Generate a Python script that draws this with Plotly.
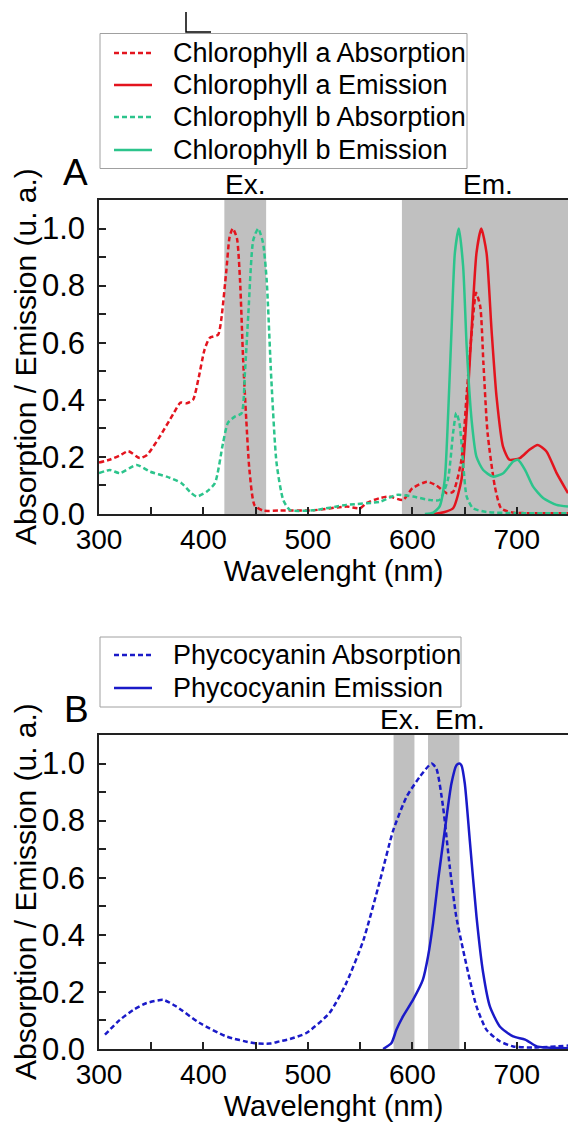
import plotly.graph_objects as go

# ---------------- Data ----------------
# Panel A
chla_abs_x = [300, 310, 320, 328, 339, 346, 358, 371, 378, 384, 390, 395, 401, 406, 414, 417, 422, 425,
              428, 432, 435, 438, 441, 444, 449, 457, 473, 505, 537, 550, 556, 569, 578, 591, 600, 614,
              623, 633, 639, 647, 652, 657, 661, 665, 668, 672, 679, 685, 696, 720, 749]
chla_abs_y = [0.18, 0.19, 0.205, 0.22, 0.196, 0.207, 0.27, 0.35, 0.39, 0.388, 0.40, 0.47, 0.575, 0.617,
              0.628, 0.68, 0.856, 0.97, 1.0, 0.967, 0.82, 0.54, 0.33, 0.155, 0.03, 0.012, 0.012, 0.013,
              0.026, 0.02, 0.038, 0.056, 0.061, 0.049, 0.09, 0.113, 0.10, 0.073, 0.078, 0.19, 0.42,
              0.645, 0.775, 0.727, 0.53, 0.284, 0.096, 0.02, 0.005, 0.003, 0.003]

chla_em_x = [620, 630, 639, 647, 652, 656.7, 661.4, 666, 671, 675.8, 680.6, 686.8, 693, 703, 712, 720,
             728.4, 738, 749]
chla_em_y = [0.0, 0.006, 0.02, 0.12, 0.35, 0.645, 0.915, 1.0, 0.915, 0.645, 0.41, 0.236, 0.19, 0.196,
             0.225, 0.242, 0.219, 0.144, 0.073]

chlb_abs_x = [300, 310.5, 320, 336, 349, 364.8, 379, 387, 393.5, 403, 411, 418.7, 423.5, 430, 436.5,
              439.7, 443, 447.7, 452.4, 457, 460.5, 465, 470, 476.4, 482.8, 505, 537, 569, 585, 600.5,
              616.7, 626, 634, 639, 642, 645, 648.6, 652, 658, 671, 700, 749]
chlb_abs_y = [0.143, 0.154, 0.143, 0.172, 0.148, 0.131, 0.108, 0.078, 0.061, 0.078, 0.108, 0.248, 0.32,
              0.341, 0.353, 0.494, 0.704, 0.96, 1.0, 0.95, 0.82, 0.47, 0.178, 0.049, 0.014, 0.013,
              0.032, 0.043, 0.067, 0.061, 0.049, 0.049, 0.12, 0.284, 0.354, 0.32, 0.178, 0.061, 0.02,
              0.007, 0.003, 0.003]

chlb_em_x = [612, 620, 626, 631, 634.3, 637.5, 640.7, 644.5, 648.6, 652, 656.7, 661.4, 667.8, 677, 687,
             696.5, 701, 708, 715.6, 725.2, 738, 749]
chlb_em_y = [0.0, 0.005, 0.026, 0.12, 0.354, 0.645, 0.915, 1.0, 0.868, 0.587, 0.33, 0.20, 0.154, 0.131,
             0.143, 0.184, 0.19, 0.154, 0.096, 0.056, 0.032, 0.026]

# Panel B
pc_abs_x = [305.7, 320, 332.8, 345.6, 361.5, 374, 396.4, 422, 447.7, 463.6, 473, 482.8, 498.5, 520.6,
            536.6, 553, 569, 581.6, 594.4, 607, 618.4, 623, 629.4, 635.8, 642, 648.6, 655, 661.4, 671,
            683.7, 696.5, 715.6, 749]
pc_abs_y = [0.05, 0.102, 0.137, 0.161, 0.172, 0.149, 0.091, 0.044, 0.021, 0.019, 0.027, 0.035, 0.056,
            0.126, 0.23, 0.38, 0.59, 0.765, 0.883, 0.953, 1.0, 0.982, 0.848, 0.638, 0.464, 0.347, 0.242,
            0.149, 0.067, 0.027, 0.009, 0.005, 0.012]

pc_em_x = [572, 580, 584.7, 591, 600.6, 610, 615, 619.8, 624.6, 631, 637.4, 642.2, 645, 647, 650.2, 655,
           661.4, 667.8, 674.2, 683.7, 696.5, 708, 719, 728.4, 749]
pc_em_y = [0.0, 0.021, 0.067, 0.114, 0.172, 0.242, 0.324, 0.44, 0.59, 0.765, 0.93, 0.994, 1.0, 0.994,
           0.93, 0.73, 0.464, 0.266, 0.149, 0.079, 0.044, 0.033, 0.009, 0.005, 0.003]

# Shaded excitation / emission windows (nm)
bands_a = [(420, 460), (590, 749)]
bands_b = [(582, 602), (615, 645)]
band_labels_a = [("Ex.", 440), ("Em.", 672)]
band_labels_b = [("Ex.", 588), ("Em.", 646)]

x_tickvals = [300, 350, 400, 450, 500, 550, 600, 650, 700, 750]
x_ticktext = ["300", "", "400", "", "500", "", "600", "", "700", ""]
y_tickvals = [0.0, 0.1, 0.2, 0.3, 0.4, 0.5, 0.6, 0.7, 0.8, 0.9, 1.0]
y_ticktext = ["0.0", "", "0.2", "", "0.4", "", "0.6", "", "0.8", "", "1.0"]

RED = "#E3141E"
GREEN = "#2CC48C"
BLUE = "#1A1AC8"
GREY = "#C0C0C0"
FONT = "Liberation Sans, Arial, sans-serif"
DASH = "5px,3px"

W, H = 568, 1124
ML = 99

series_a = [
    ("Chlorophyll a Absorption", chla_abs_x, chla_abs_y, RED, DASH),
    ("Chlorophyll a Emission", chla_em_x, chla_em_y, RED, "solid"),
    ("Chlorophyll b Absorption", chlb_abs_x, chlb_abs_y, GREEN, DASH),
    ("Chlorophyll b Emission", chlb_em_x, chlb_em_y, GREEN, "solid"),
]
series_b = [
    ("Phycocyanin Absorption", pc_abs_x, pc_abs_y, BLUE, DASH),
    ("Phycocyanin Emission", pc_em_x, pc_em_y, BLUE, "solid"),
]

fig = go.Figure()
for name, x, y, color, dash in series_a:
    fig.add_trace(go.Scatter(x=x, y=y, name=name, mode="lines", xaxis="x", yaxis="y",
                             line=dict(color=color, width=2.5, dash=dash, shape="spline", smoothing=0.6)))
for name, x, y, color, dash in series_b:
    fig.add_trace(go.Scatter(x=x, y=y, name=name, mode="lines", xaxis="x2", yaxis="y2",
                             line=dict(color=color, width=2.5, dash=dash, shape="spline", smoothing=0.6)))


def px2x(px):
    return (px - ML) / (W - ML)


def py2y(py):
    return 1 - py / H


shapes = []
annotations = []
for (a, b) in bands_a:
    shapes.append(dict(type="rect", xref="x", yref="y domain", x0=a, x1=b, y0=0, y1=1,
                       fillcolor=GREY, line=dict(width=0), layer="below"))
for (a, b) in bands_b:
    shapes.append(dict(type="rect", xref="x2", yref="y2 domain", x0=a, x1=b, y0=0, y1=1,
                       fillcolor=GREY, line=dict(width=0), layer="below"))

# small "L" mark at the top of the figure
shapes.append(dict(type="path", xref="paper", yref="paper",
                   path=f"M{px2x(186)},{py2y(12)} L{px2x(186)},{py2y(32)} L{px2x(211)},{py2y(32)}",
                   line=dict(color="black", width=1.5)))


# hand-built legends (box, line samples, labels)
def legend_box(series, left, top, right, bottom, rows):
    shapes.append(dict(type="rect", xref="paper", yref="paper",
                       x0=px2x(left), x1=px2x(right), y0=py2y(bottom), y1=py2y(top),
                       line=dict(color="#A0A0A0", width=1), fillcolor="white", layer="above"))
    for (name, _x, _y, color, dash), ry in zip(series, rows):
        shapes.append(dict(type="line", xref="paper", yref="paper",
                           x0=px2x(114), x1=px2x(152), y0=py2y(ry), y1=py2y(ry),
                           line=dict(color=color, width=2.5, dash=dash), layer="above"))
        annotations.append(dict(text=name, x=px2x(171), y=py2y(ry), xref="paper", yref="paper",
                                xanchor="left", yanchor="middle", showarrow=False,
                                font=dict(size=27, color="black", family=FONT)))


legend_box(series_a, 100, 33.5, 467, 168.5, [53, 85, 117, 150])
legend_box(series_b, 100, 637, 461, 707, [655, 688])

for txt, xv in band_labels_a:
    annotations.append(dict(text=txt, x=xv, xref="x", y=1, yref="y domain", yanchor="bottom",
                            showarrow=False, yshift=-2, font=dict(size=28, color="black", family=FONT)))
for txt, xv in band_labels_b:
    annotations.append(dict(text=txt, x=xv, xref="x2", y=1, yref="y2 domain", yanchor="bottom",
                            showarrow=False, yshift=-2, font=dict(size=28, color="black", family=FONT)))
annotations.append(dict(text="A", x=px2x(75), xref="paper", y=py2y(172), yref="paper",
                        xanchor="center", yanchor="middle", showarrow=False,
                        font=dict(size=37, color="black", family=FONT)))
annotations.append(dict(text="B", x=px2x(76), xref="paper", y=py2y(709), yref="paper",
                        xanchor="center", yanchor="middle", showarrow=False,
                        font=dict(size=37, color="black", family=FONT)))

Y_TITLE = "Absorption / Emission (u. a.)"
for cy in (357, 892):
    annotations.append(dict(text=Y_TITLE, x=px2x(25), y=py2y(cy), xref="paper", yref="paper",
                            xanchor="center", yanchor="middle", textangle=-90, showarrow=False,
                            font=dict(size=30, color="black", family=FONT)))


def xaxis(anchor):
    return dict(range=[300, 749], anchor=anchor, domain=[0, 1],
                tickmode="array", tickvals=x_tickvals, ticktext=x_ticktext,
                ticks="inside", ticklen=7, tickwidth=1.5, tickcolor="#222",
                showline=True, linecolor="#222", linewidth=1.5, mirror=True,
                showgrid=False, zeroline=False,
                tickfont=dict(size=28, color="black", family=FONT),
                title=dict(text="Wavelenght (nm)", font=dict(size=29, color="black", family=FONT),
                           standoff=4))


def yaxis(anchor, domain):
    return dict(range=[0, 1.1], anchor=anchor, domain=domain,
                tickmode="array", tickvals=y_tickvals, ticktext=y_ticktext,
                ticks="inside", ticklen=7, tickwidth=1.5, tickcolor="#222",
                showline=True, linecolor="#222", linewidth=1.5, mirror=True,
                showgrid=False, zeroline=False, ticklabelstandoff=6,
                tickfont=dict(size=31, color="black", family=FONT))


dom_a = [1 - 514 / H, 1 - 200 / H]
dom_b = [1 - 1049 / H, 1 - 735 / H]

fig.update_layout(
    width=W, height=H,
    margin=dict(l=ML, r=0, t=0, b=0, autoexpand=False),
    paper_bgcolor="white", plot_bgcolor="white",
    font=dict(family=FONT, color="black"),
    xaxis=xaxis("y"), yaxis=yaxis("x", dom_a),
    xaxis2=xaxis("y2"), yaxis2=yaxis("x2", dom_b),
    shapes=shapes, annotations=annotations,
    showlegend=False,
)

fig.write_html("out.html", config={"displayModeBar": False},
               post_script="document.body.style.margin='0';")
